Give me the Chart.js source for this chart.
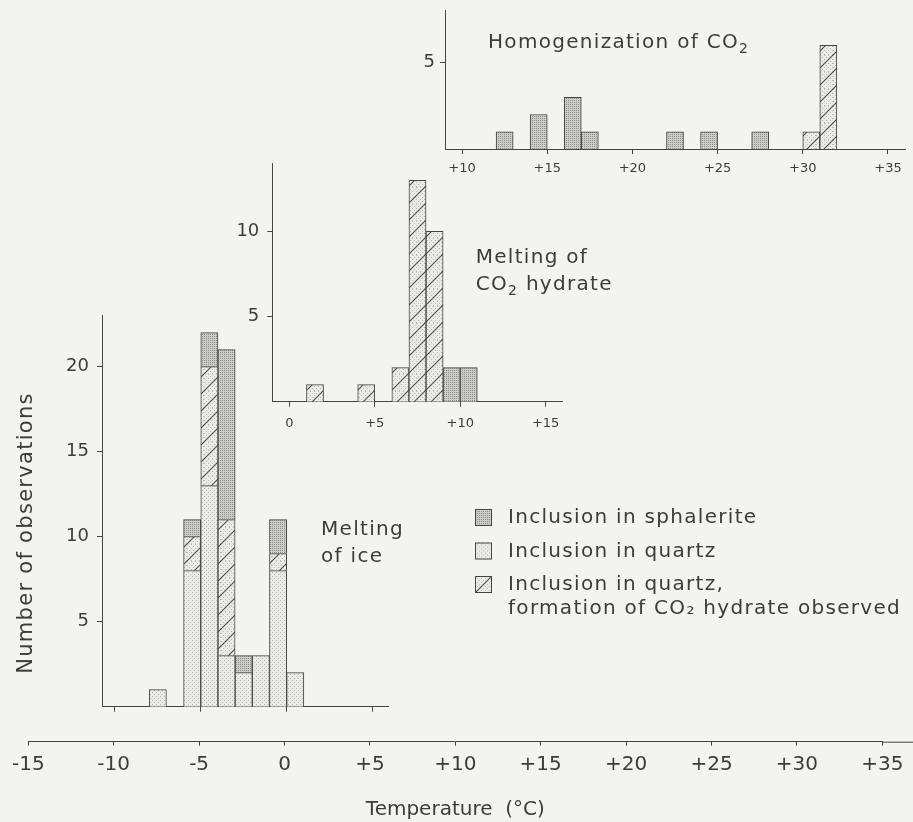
<!DOCTYPE html>
<html>
<head>
<meta charset="utf-8">
<script src="https://cdn.jsdelivr.net/npm/chart.js@4"></script>
<style>
  html, body { margin: 0; padding: 0; background: #f3f3ef; }
  #wrap { position: relative; width: 913px; height: 822px; overflow: hidden; }
  #wrap canvas { position: absolute; left: 0; top: 0; }
  .note {
    position: absolute; white-space: nowrap; color: #3c3c3c;
    font-family: 'DejaVu Sans', sans-serif; font-size: 20px; line-height: 27px; letter-spacing: 1.3px;
  }
  .note sub { font-size: 14px; vertical-align: -5px; line-height: 0; }
  #ytitle {
    position: absolute; left: -125px; top: 521px; width: 300px; text-align: center;
    font-family: 'DejaVu Sans', sans-serif; font-size: 21px; line-height: 24px; letter-spacing: 1.3px;
    color: #3c3c3c; transform: rotate(-90deg);
  }
</style>
</head>
<body>
<div id="wrap">
  <canvas id="mainAxis" width="913" height="822"></canvas>
  <canvas id="homChart" width="913" height="852" style="top:-30px"></canvas>
  <canvas id="hydChart" width="913" height="822"></canvas>
  <canvas id="iceChart" width="913" height="822"></canvas>
  <div class="note" style="left:321px; top:514.6px">Melting<br>of ice</div>
  <div class="note" style="left:475.7px; top:242.6px">Melting of<br>CO<sub>2</sub> hydrate</div>
  <div class="note" style="left:488px; top:27.6px">Homogenization of CO<sub>2</sub></div>
  <div id="ytitle">Number of observations</div>
</div>
<script>
// ---- data (1 °C bins, given by bin centre) ----
const labelSphalerite = 'Inclusion in sphalerite';
const labelQuartz = 'Inclusion in quartz';
const labelHydrate = 'Inclusion in quartz,\nformation of CO\u2082 hydrate observed';

// melting of ice
const iceBins = [-7.5, -5.5, -4.5, -3.5, -2.5, -1.5, -0.5, 0.5];
const iceQuartz = [1, 8, 13, 3, 2, 3, 8, 2];
const iceHydrate = [0, 2, 7, 8, 0, 0, 1, 0];
const iceSphalerite = [0, 1, 2, 10, 1, 0, 2, 0];

// melting of CO2 hydrate
const hydBins = [1.5, 4.5, 6.5, 7.5, 8.5, 9.5, 10.5];
const hydHydrate = [1, 1, 2, 13, 10, 0, 0];
const hydSphalerite = [0, 0, 0, 0, 0, 2, 2];

// homogenization of CO2
const homBins = [12.5, 14.5, 16.5, 17.5, 22.5, 24.5, 27.5, 30.5, 31.5];
const homSphalerite = [1, 2, 3, 1, 1, 1, 1, 0, 0];
const homHydrate = [0, 0, 0, 0, 0, 0, 0, 1, 6];

// ticks
const mainTicks = [-15, -10, -5, 0, 5, 10, 15, 20, 25, 30, 35];
const iceXTicks = [-10, -5, 0, 5];
const iceYTicks = [5, 10, 15, 20];
const hydXTicks = [0, 5, 10, 15];
const hydYTicks = [5, 10];
const homXTicks = [10, 15, 20, 25, 30, 35];
const homYTicks = [5];

const INK = '#444';
const TEXT = '#3c3c3c';

// ---- fill patterns ----
function tile(size, paint) {
  const c = document.createElement('canvas');
  c.width = c.height = size;
  const g = c.getContext('2d');
  paint(g, size);
  return g.createPattern(c, 'repeat');
}
const quartzFill = tile(4, (g, s) => {
  g.fillStyle = '#ebebe5'; g.fillRect(0, 0, s, s);
  g.fillStyle = '#b9b9b3'; g.fillRect(0, 0, 1, 1); g.fillRect(2, 2, 1, 1);
});
const sphaleriteFill = tile(2, (g, s) => {
  g.fillStyle = '#cdcdc7'; g.fillRect(0, 0, s, s);
  g.fillStyle = '#8f8f89'; g.fillRect(0, 0, 1, 1);
});
const hydrateFill = tile(17, (g, s) => {
  g.fillStyle = quartzFill; g.fillRect(0, 0, s, s);
  g.strokeStyle = '#4a4a4a'; g.lineWidth = 1.1;
  for (const o of [-s, 0, s]) {
    g.beginPath(); g.moveTo(o, s); g.lineTo(o + s, 0); g.stroke();
  }
});

function series(bins, counts) {
  return bins.map((b, i) => ({ x: b, y: counts[i] || null }));
}
function barSet(label, bins, counts, fill) {
  return {
    label, data: series(bins, counts), backgroundColor: fill,
    borderColor: INK, borderWidth: 1, barPercentage: 1, categoryPercentage: 1
  };
}
const signed = v => (v > 0 ? '+' + v : String(v));

// legend drawn from the ice chart's datasets
const boxLegend = {
  id: 'boxLegend',
  afterDraw(chart, args, opts) {
    if (!opts.show) return;
    const ctx = chart.ctx;
    ctx.save();
    ctx.font = '20px "DejaVu Sans", sans-serif';
    if ('letterSpacing' in ctx) ctx.letterSpacing = '1.3px';
    let y = opts.top;
    opts.order.forEach(i => {
      const ds = chart.data.datasets[i];
      ctx.save();
      ctx.translate(opts.left, y);
      ctx.fillStyle = ds.backgroundColor;
      ctx.fillRect(0, 0, opts.box, opts.box);
      ctx.strokeStyle = INK; ctx.lineWidth = 1;
      ctx.strokeRect(0.5, 0.5, opts.box - 1, opts.box - 1);
      ctx.restore();
      ctx.fillStyle = TEXT;
      ds.label.split('\n').forEach((line, k) => {
        ctx.fillText(line, opts.textLeft, y + opts.box - 3 + k * opts.lineGap);
      });
      y += opts.rowGap;
    });
    ctx.restore();
  }
};

function inset(id, cfg) {
  return new Chart(document.getElementById(id), {
    type: 'bar',
    data: { datasets: cfg.datasets },
    plugins: [boxLegend],
    options: {
      responsive: false,
      animation: false,
      layout: { padding: cfg.pad },
      plugins: {
        legend: { display: false },
        tooltip: { enabled: false },
        boxLegend: cfg.legend || { show: false }
      },
      scales: {
        x: {
          type: 'linear', stacked: true, offset: false, min: cfg.xMin, max: cfg.xMax,
          afterBuildTicks: s => { s.ticks = cfg.xTicks.map(v => ({ value: v })); },
          afterFit: s => { s.height = cfg.xHeight; },
          grid: { offset: false, drawOnChartArea: false, drawTicks: true, tickLength: 5, tickColor: INK },
          border: { display: true, color: INK, width: 1 },
          ticks: {
            display: cfg.xLabels, autoSkip: false, maxRotation: 0, padding: cfg.xPad,
            color: TEXT, font: { family: '"DejaVu Sans", sans-serif', size: 13 },
            callback: v => signed(v)
          }
        },
        y: {
          stacked: true, min: 0, max: cfg.yMax,
          afterBuildTicks: s => { s.ticks = cfg.yTicks.map(v => ({ value: v })); },
          afterFit: s => { s.width = cfg.yWidth; },
          grid: { drawOnChartArea: false, drawTicks: true, tickLength: 5, tickColor: INK },
          border: { display: true, color: INK, width: 1 },
          ticks: {
            autoSkip: false, padding: cfg.yPad, color: TEXT,
            font: { family: '"DejaVu Sans", sans-serif', size: 18 }
          }
        }
      }
    }
  });
}

// main temperature axis
const axisTail = {
  id: 'axisTail',
  afterDraw(chart) {
    const { ctx, chartArea } = chart;
    ctx.save();
    ctx.strokeStyle = INK; ctx.lineWidth = 1;
    ctx.beginPath();
    ctx.moveTo(chartArea.right, chartArea.bottom + 0.5);
    ctx.lineTo(chart.width, chartArea.bottom + 0.5);
    ctx.stroke();
    ctx.restore();
  }
};
new Chart(document.getElementById('mainAxis'), {
  type: 'scatter',
  data: { datasets: [] },
  plugins: [axisTail],
  options: {
    responsive: false,
    animation: false,
    layout: { padding: { left: 28.3, right: 30.7, top: 700, bottom: 0 } },
    plugins: { legend: { display: false }, tooltip: { enabled: false } },
    scales: {
      x: {
        type: 'linear', min: -15, max: 35,
        afterBuildTicks: s => { s.ticks = mainTicks.map(v => ({ value: v })); },
        afterFit: s => { s.height = 80.3; },
        grid: { drawOnChartArea: false, drawTicks: true, tickLength: 4, tickColor: INK },
        border: { display: true, color: INK, width: 1 },
        ticks: {
          autoSkip: false, maxRotation: 0, padding: 7, color: TEXT,
          font: { family: '"DejaVu Sans", sans-serif', size: 20 },
          callback: v => signed(v)
        },
        title: {
          display: true, text: 'Temperature  (\u00B0C)', color: TEXT,
          font: { family: '"DejaVu Sans", sans-serif', size: 20 },
          padding: { top: 0, bottom: 0 }
        }
      },
      y: { display: false, min: 0, max: 1 }
    }
  }
});

// homogenization of CO2 (canvas shifted up by 30px)
inset('homChart', {
  datasets: [
    barSet(labelSphalerite, homBins, homSphalerite, sphaleriteFill),
    barSet(labelHydrate, homBins, homHydrate, hydrateFill)
  ],
  pad: { left: 385, right: 8, top: 40.9, bottom: 638 },
  xMin: 9, xMax: 36, xTicks: homXTicks, xHeight: 35, xLabels: true, xPad: 7,
  yMax: 8, yTicks: homYTicks, yWidth: 60, yPad: 5
});

// melting of CO2 hydrate
inset('hydChart', {
  datasets: [
    barSet(labelHydrate, hydBins, hydHydrate, hydrateFill),
    barSet(labelSphalerite, hydBins, hydSphalerite, sphaleriteFill)
  ],
  pad: { left: 212.3, right: 350.3, top: 163.3, bottom: 380.3 },
  xMin: -1, xMax: 16, xTicks: hydXTicks, xHeight: 40, xLabels: true, xPad: 9,
  yMax: 14, yTicks: hydYTicks, yWidth: 60, yPad: 8
});

// melting of ice (+ legend)
inset('iceChart', {
  datasets: [
    barSet(labelQuartz, iceBins, iceQuartz, quartzFill),
    barSet(labelHydrate, iceBins, iceHydrate, hydrateFill),
    barSet(labelSphalerite, iceBins, iceSphalerite, sphaleriteFill)
  ],
  pad: { left: 0, right: 525, top: 315.7, bottom: 105.3 },
  xMin: -10.75, xMax: 5.9, xTicks: iceXTicks, xHeight: 10, xLabels: false, xPad: 0,
  yMax: 23, yTicks: iceYTicks, yWidth: 102, yPad: 8,
  legend: { show: true, order: [2, 0, 1], left: 475, top: 509, box: 17, textLeft: 508, rowGap: 33.5, lineGap: 23.5 }
});
</script>
</body>
</html>
